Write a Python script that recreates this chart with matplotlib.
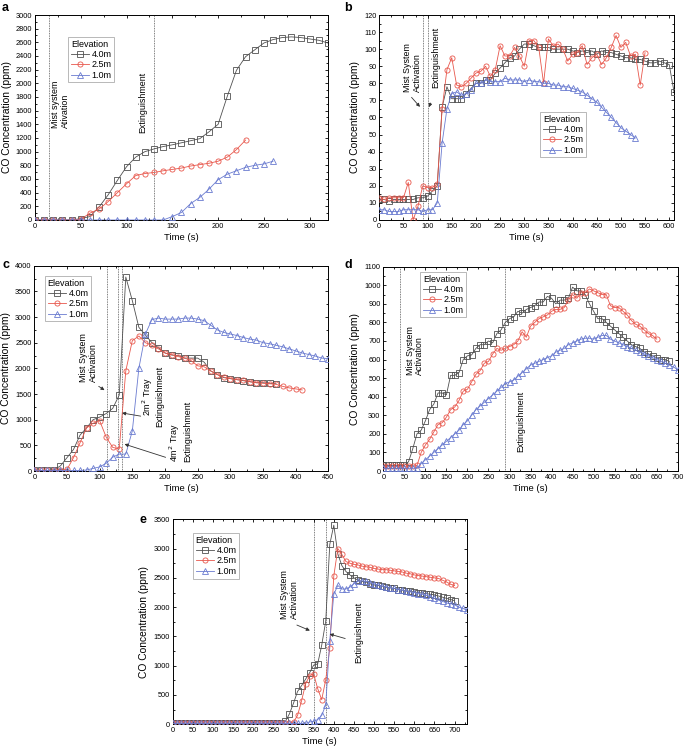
import numpy as np
import matplotlib
matplotlib.use("Agg")
import matplotlib.pyplot as plt
from matplotlib.ticker import MultipleLocator, AutoMinorLocator

plt.rcParams['font.family'] = ['Liberation Sans', 'DejaVu Sans']

labels = ["4.0m", "2.5m", "1.0m"]
legend_title = "Elevation"

# ---------------- panel a ----------------
a_t40 = list(range(0, 330, 10))
a_40 = [0, 0, 0, 0, 0, 20, 50, 190, 370, 580, 780, 920, 1000, 1040, 1075, 1100, 1130,
        1160, 1190, 1290, 1400, 1810, 2190, 2390, 2490, 2590, 2640, 2670, 2680, 2670,
        2650, 2630, 2590]
a_t25 = list(range(0, 240, 10))
a_25 = [0, 0, 0, 0, 0, 10, 100, 160, 270, 400, 530, 650, 680, 695, 720, 740, 760, 790,
        810, 830, 860, 920, 1030, 1170]
a_t10 = list(range(0, 270, 10))
a_10 = [0] * 15 + [50, 110, 240, 330, 450, 590, 670, 720, 770, 800, 820, 860]

# ---------------- panel b ----------------
b_t40 = list(range(0, 620, 10))
b_40 = [12, 12, 11, 12, 12, 12, 12, 12, 13, 13,
        14, 17, 20, 66, 78, 71, 71, 71, 74, 77,
        80, 80, 82, 82, 86, 89, 92, 95, 96, 100,
        103, 103, 102, 101, 101, 101, 100, 100, 100, 100,
        99, 98, 99, 98, 99, 97, 99, 98, 98, 97,
        96, 95, 95, 94, 94, 93, 92, 92, 93, 92,
        91, 75]
b_t25 = list(range(0, 560, 10))
b_25 = [13, 12, 13, 13, 13, 13, 22, 0, 8, 20,
        19, 19, 21, 65, 88, 95, 79, 78, 80, 83,
        86, 87, 90, 84, 88, 102, 96, 96, 101, 96,
        90, 105, 105, 101, 80, 106, 102, 103, 100, 93,
        97, 98, 102, 91, 95, 97, 91, 95, 101, 108,
        101, 104, 96, 97, 79, 98]
b_t10 = list(range(0, 540, 10))
b_10 = [6, 6, 5, 5, 5, 6, 6, 6, 6, 5,
        6, 6, 10, 45, 65, 74, 75, 73, 74, 76,
        80, 80, 82, 81, 81, 81, 83, 82, 82, 82,
        81, 82, 81, 81, 80, 80, 79, 79, 78, 78,
        77, 76, 75, 73, 71, 69, 66, 63, 60, 57,
        54, 52, 50, 48]

# ---------------- panel c ----------------
c_t40 = list(range(0, 380, 10))
c_40 = [20, 10, 10, 20, 100, 260, 420, 700, 840, 1000,
        1050, 1120, 1220, 1480, 3780, 3320, 2800, 2650, 2500, 2400,
        2300, 2260, 2250, 2200, 2200, 2200, 2120, 1950, 1880, 1820,
        1800, 1780, 1760, 1740, 1720, 1720, 1710, 1700]
c_t25 = list(range(0, 420, 10))
c_25 = [20, 10, 10, 10, 20, 30, 260, 550, 840, 930,
        980, 660, 460, 430, 1950, 2540, 2630, 2500, 2450, 2380,
        2300, 2270, 2230, 2200, 2150, 2050, 2030, 1950, 1880, 1830,
        1800, 1780, 1770, 1740, 1720, 1710, 1700, 1690, 1650, 1620,
        1600, 1580]
c_t10 = list(range(0, 460, 10))
c_10 = [20, 10, 10, 10, 10, 10, 10, 10, 20, 50,
        80, 150, 270, 330, 330, 780, 2000, 2670, 2950, 2980,
        2960, 2960, 2960, 2980, 2980, 2960, 2930, 2840, 2750, 2700,
        2670, 2640, 2600, 2570, 2550, 2500, 2480, 2450, 2420, 2380,
        2340, 2300, 2270, 2240, 2200, 2190]

# ---------------- panel d ----------------
d_t40 = list(range(0, 690, 10))
d_40 = [30, 30, 30, 30, 30, 30, 50, 120, 200, 220,
        270, 330, 360, 420, 420, 410, 515, 515, 530, 600,
        620, 625, 660, 680, 680, 700, 690, 740, 760, 800,
        820, 830, 860, 850, 870, 880, 890, 910, 910, 940,
        930, 900, 920, 920, 930, 990, 970, 970, 950, 900,
        860, 820, 820, 800, 780, 760, 740, 720, 700, 680,
        670, 660, 640, 630, 620, 610, 600, 600, 590]
d_t25 = list(range(0, 660, 10))
d_25 = [25, 25, 25, 25, 25, 25, 25, 25, 30, 100,
        140, 170, 210, 250, 260, 290, 330, 345, 380, 430,
        440, 480, 520, 540, 580, 590, 630, 660, 650, 660,
        670, 680, 700, 750, 720, 780, 800, 820, 830, 840,
        860, 870, 870, 880, 920, 950, 930, 960, 960, 980,
        970, 960, 950, 950, 890, 880, 880, 860, 840, 810,
        790, 780, 760, 740, 730, 710]
d_t10 = list(range(0, 710, 10))
d_10 = [15, 15, 15, 15, 15, 15, 15, 15, 15, 40,
        60, 80, 100, 120, 140, 160, 180, 200, 220, 250,
        270, 300, 330, 350, 370, 390, 410, 430, 450, 470,
        480, 490, 510, 530, 550, 570, 580, 590, 600, 610,
        620, 640, 650, 660, 680, 690, 700, 710, 715, 715,
        710, 720, 730, 730, 710, 700, 690, 680, 670, 660,
        650, 640, 630, 620, 610, 600, 590, 580, 570, 560,
        545]

# ---------------- panel e ----------------
e_t40 = list(range(0, 710, 10))
e_40 = [20] * 28 + [50, 180, 360, 560, 660, 770, 880, 1010, 1030, 1350,
                    1760, 3070, 3400, 2910, 2710, 2610, 2550, 2500, 2460, 2440,
                    2430, 2400, 2380, 2370, 2360, 2340, 2330, 2320, 2300, 2290,
                    2280, 2270, 2260, 2250, 2240, 2230, 2220, 2210, 2190, 2170,
                    2150, 2130, 2110]
e_t25 = list(range(0, 710, 10))
e_25 = [20] * 30 + [40, 150, 400, 690, 830, 860, 610, 420, 760, 1300,
                    2530, 3000, 2900, 2780, 2750, 2730, 2720, 2700, 2690, 2680,
                    2660, 2650, 2640, 2640, 2630, 2620, 2610, 2600, 2580, 2570,
                    2550, 2540, 2530, 2520, 2510, 2500, 2490, 2460, 2430, 2390,
                    2370]
e_t10 = list(range(0, 740, 10))
e_10 = [15] * 34 + [40, 50, 80, 150, 330, 1430, 2220, 2370, 2310, 2310,
                    2340, 2400, 2440, 2450, 2440, 2420, 2400, 2380, 2360, 2350,
                    2330, 2320, 2300, 2290, 2270, 2260, 2250, 2230, 2220, 2200,
                    2180, 2150, 2120, 2100, 2070, 2060, 2040, 2000, 1980, 1950]

colors = ['#505050', '#e8574c', '#6a7bd0']
markers = ['s', 'o', '^']

fig = plt.figure(figsize=(6.85, 7.5), dpi=100)

TICK_FS = 5.3
XLAB_FS = 6.8
YLAB_FS = 7.4


def make_ax(rect, series, xlim, xmaj, ylim, ymaj, leg_loc, letter, letter_xy):
    ax = fig.add_axes(rect)
    for (t, v), c, m, lab in zip(series, colors, markers, labels):
        ax.plot(t, v, color=c, lw=0.6, marker=m, ms=3.7, mfc='none', mec=c, mew=0.6,
                label=lab, zorder=3)
    ax.set_xlim(*xlim)
    ax.set_ylim(*ylim)
    ax.xaxis.set_major_locator(MultipleLocator(xmaj))
    ax.yaxis.set_major_locator(MultipleLocator(ymaj))
    ax.xaxis.set_minor_locator(AutoMinorLocator(2))
    ax.yaxis.set_minor_locator(AutoMinorLocator(2))
    ax.tick_params(which='both', direction='in', top=True, right=True,
                   labelsize=TICK_FS, width=0.6, pad=2)
    ax.tick_params(which='major', length=2.5)
    ax.tick_params(which='minor', length=1.5)
    for s in ax.spines.values():
        s.set_linewidth(0.7)
    ax.set_xlabel("Time (s)", fontsize=XLAB_FS, labelpad=2)
    ax.set_ylabel("CO Concentration (ppm)", fontsize=YLAB_FS, labelpad=3)
    leg = ax.legend(title=legend_title, loc='upper left', bbox_to_anchor=leg_loc,
                    fontsize=6.5, title_fontsize=6.5, frameon=True, fancybox=False,
                    edgecolor='#999999', handlelength=2.0, handletextpad=0.3,
                    borderpad=0.3, labelspacing=0.15, borderaxespad=0)
    leg._legend_box.align = "left"
    leg.get_frame().set_linewidth(0.6)
    fig.text(letter_xy[0], letter_xy[1], letter, fontsize=9, fontweight='bold',
             ha='left', va='top')
    return ax


def vline(ax, x):
    ax.axvline(x, color='#555555', lw=0.6, ls=(0, (1, 1)), zorder=1)


ANN_FS = 6.4
arrow = dict(arrowstyle='-|>', color='#333333', lw=0.6, mutation_scale=5)

# a
ax = make_ax([0.0511, 0.7067, 0.4277, 0.2733],
             [(a_t40, a_40), (a_t25, a_25), (a_t10, a_10)],
             (0, 320), 50, (0, 3000), 200, (0.113, 0.893), 'a', (0.003, 0.997))
vline(ax, 15)
vline(ax, 130)
ax.text(28, 1690, "Mist system\nAtivation", rotation=90, ha='center', va='center',
        multialignment='left', fontsize=ANN_FS, linespacing=1.1)
ax.text(118, 1720, "Extinguishment", rotation=90, ha='center', va='center', fontsize=ANN_FS)

# b
ax = make_ax([0.5537, 0.7067, 0.4303, 0.2733],
             [(b_t40, b_40), (b_t25, b_25), (b_t10, b_10)],
             (0, 610), 50, (0, 120), 10, (0.546, 0.527), 'b', (0.503, 0.997))
vline(ax, 90)
vline(ax, 100)
ax.text(68, 89.5, "Mist System\nActivation", rotation=90, ha='center', va='center',
        multialignment='left', fontsize=ANN_FS, linespacing=1.1)
ax.text(117, 95, "Extinguishment", rotation=90, ha='center', va='center', fontsize=ANN_FS)
ax.annotate("", xy=(88, 65), xytext=(63, 73), arrowprops=arrow)
ax.annotate("", xy=(101, 64.5), xytext=(108, 70), arrowprops=arrow)

# c
ax = make_ax([0.0501, 0.372, 0.4292, 0.2737],
             [(c_t40, c_40), (c_t25, c_25), (c_t10, c_10)],
             (0, 450), 50, (0, 4000), 500, (0.036, 0.95), 'c', (0.003, 0.655))
for x in (111, 128, 134):
    vline(ax, x)
ax.text(83, 2215, "Mist System\nActivation", rotation=90, ha='center', va='center',
        multialignment='left', fontsize=ANN_FS, linespacing=1.1)
ax.annotate("", xy=(111, 1545), xytext=(95, 1680), arrowprops=arrow)
ax.text(181, 1450, "2m$^2$ Tray\nExtinguishment", rotation=90, ha='center', va='center',
        multialignment='center', fontsize=ANN_FS, linespacing=1.1)
ax.annotate("", xy=(130, 1140), xytext=(167, 1060), arrowprops=arrow)
ax.text(223, 180, "4m$^2$ Tray\nExtinguishment", rotation=90, ha='center', va='bottom',
        multialignment='left', fontsize=ANN_FS, linespacing=1.1)
ax.annotate("", xy=(134, 540), xytext=(205, 250), arrowprops=arrow)

# d
ax = make_ax([0.5596, 0.372, 0.4298, 0.2724],
             [(d_t40, d_40), (d_t25, d_25), (d_t10, d_10)],
             (0, 700), 50, (0, 1100), 100, (0.125, 0.974), 'd', (0.503, 0.655))
vline(ax, 40)
vline(ax, 290)
ax.text(75, 650, "Mist System\nActivation", rotation=90, ha='center', va='center',
        multialignment='left', fontsize=ANN_FS, linespacing=1.1)
ax.text(327, 265, "Extinguishment", rotation=90, ha='center', va='center', fontsize=ANN_FS)

# e
ax = make_ax([0.2521, 0.0343, 0.4292, 0.2733],
             [(e_t40, e_40), (e_t25, e_25), (e_t10, e_10)],
             (0, 730), 50, (0, 3500), 500, (0.069, 0.933), 'e', (0.203, 0.315))
vline(ax, 350)
vline(ax, 380)
ax.text(290, 2220, "Mist System\nActivation", rotation=90, ha='center', va='center',
        multialignment='left', fontsize=ANN_FS, linespacing=1.1)
ax.annotate("", xy=(347, 1582), xytext=(302, 1713), arrowprops=arrow)
ax.text(462, 1576, "Extinguishment", rotation=90, ha='center', va='center', fontsize=ANN_FS)
ax.annotate("", xy=(383, 1554), xytext=(435, 1451), arrowprops=arrow)

fig.savefig("out.png", dpi=100)
